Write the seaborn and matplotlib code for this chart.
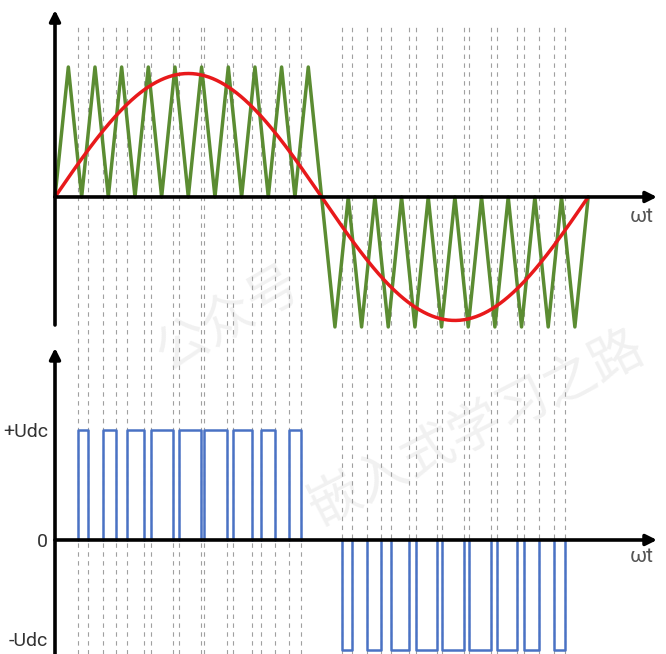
import numpy as np
import pandas as pd
import matplotlib
matplotlib.use('Agg')
import matplotlib.pyplot as plt
import seaborn as sns

# x is measured in carrier half-periods (sine half period = 20)
carrier_x = list(range(41))
carrier_y = [0, 1] * 10 + [0, -1] * 10 + [0]

sine_amp = 0.95
sine_half_period = 20

# switching instants (pulse start, pulse end, ...)
pos_edges = [1.70, 2.50, 3.58, 4.58, 5.38, 6.68, 7.20, 8.87, 9.30,
             10.93, 11.18, 12.88, 13.33, 14.76, 15.43, 16.50, 17.53, 18.43]
neg_edges = [21.55, 22.30, 23.38, 24.45, 25.18, 26.58, 27.08, 28.63, 29.05,
             30.68, 31.03, 32.68, 33.13, 34.63, 35.20, 36.29, 37.46, 38.26]

level_ticks = [1, 0, -1]
level_labels = ['+Udc', '0', '-Udc']
axis_label = 'ωt'
watermark_1 = '公众号'
watermark_2 = '嵌入式学习之路'

GREEN = '#5b8c32'
RED = '#e8191b'
BLUE = '#4a72c4'


def pulses_frame(edges, level, start_id=0):
    rows = []
    for k in range(0, len(edges), 2):
        a, b = edges[k], edges[k + 1]
        for x, y in [(a, 0), (a, level), (b, level), (b, 0)]:
            rows.append({'x': x, 'y': y, 'pulse': start_id + k})
    return pd.DataFrame(rows)


def draw_arrow(ax, start, end):
    ax.annotate('', xy=end, xytext=start,
                arrowprops=dict(arrowstyle='-|>', lw=2.6, color='black',
                                mutation_scale=16, shrinkA=0, shrinkB=0),
                annotation_clip=False, zorder=5)


def main():
    sns.set_theme(style='white')
    plt.rcParams['font.family'] = ['Roboto', 'Noto Sans CJK SC', 'DejaVu Sans']

    W, H = 666, 654
    x0 = 55
    ppu = 13.33
    xmax = (660 - x0) / ppu

    fig = plt.figure(figsize=(W / 100, H / 100), dpi=100)
    fig.patch.set_facecolor('white')

    # background axes for the dashed switching lines across both panels
    bg = fig.add_axes([x0 / W, 0, (660 - x0) / W, 1])
    bg.set_xlim(0, xmax)
    bg.set_ylim(0, H)
    bg.axis('off')
    for e in pos_edges + neg_edges:
        bg.plot([e, e], [0, H - 23], color='#a0a0a0', lw=0.8,
                linestyle=(0, (4, 4)))

    # top panel: carrier and modulating sine
    ax1 = fig.add_axes([x0 / W, (H - 325) / H, (660 - x0) / W, 317 / H])
    ax1.patch.set_alpha(0)
    ax1.set_xlim(0, xmax)
    ax1.set_ylim(-0.985, 1.454)
    sine_x = np.linspace(0, 2 * sine_half_period, 400)
    sine_y = sine_amp * np.sin(np.pi * sine_x / sine_half_period)
    sns.lineplot(x=carrier_x, y=carrier_y, ax=ax1, color=GREEN, lw=2.5,
                 estimator=None, sort=False, clip_on=False)
    sns.lineplot(x=sine_x, y=sine_y, ax=ax1, color=RED, lw=2.5,
                 estimator=None, sort=False, clip_on=False)
    draw_arrow(ax1, (0, 0), (45.16, 0))
    draw_arrow(ax1, (0, -0.985), (0, 1.438))
    ax1.text(44.0, -0.15, axis_label, fontsize=15, color='#555555',
             ha='center', va='center')

    # bottom panel: PWM output
    ax2 = fig.add_axes([x0 / W, 0, (660 - x0) / W, 309 / H])
    ax2.patch.set_alpha(0)
    ax2.set_xlim(0, xmax)
    ax2.set_ylim(-1.032, 1.765)
    pwm = pd.concat([pulses_frame(pos_edges, 1, 0),
                     pulses_frame(neg_edges, -1, 100)])
    sns.lineplot(data=pwm, x='x', y='y', units='pulse', ax=ax2, color=BLUE,
                 lw=1.8, estimator=None, sort=False, clip_on=False)
    draw_arrow(ax2, (0, 0), (45.16, 0))
    draw_arrow(ax2, (0, -1.032), (0, 1.738))
    ax2.text(44.0, -0.15, axis_label, fontsize=15, color='#555555',
             ha='center', va='center')
    ax2.set_yticks(level_ticks)
    ax2.set_yticklabels(level_labels, fontsize=14, color='#333333')
    ax2.tick_params(axis='y', length=0, pad=5)
    ax2.get_yticklabels()[2].set_va('bottom')
    ax2.set_xticks([])

    for ax in (ax1, ax2):
        ax.set_xlabel('')
        ax.set_ylabel('')
        for s in ax.spines.values():
            s.set_visible(False)
    ax1.set_xticks([])
    ax1.set_yticks([])

    # faint watermark
    fig.text(228 / W, 1 - 318 / H, watermark_1, fontsize=38, rotation=30,
             color=(0.6, 0.6, 0.6, 0.14), ha='center', va='center',
             rotation_mode='anchor', family=['Noto Sans CJK SC'])
    fig.text(476 / W, 1 - 428 / H, watermark_2, fontsize=38, rotation=27,
             color=(0.6, 0.6, 0.6, 0.14), ha='center', va='center',
             rotation_mode='anchor', family=['Noto Sans CJK SC'])

    fig.savefig('out.png', dpi=100, facecolor='white')


if __name__ == "__main__":
    main()
